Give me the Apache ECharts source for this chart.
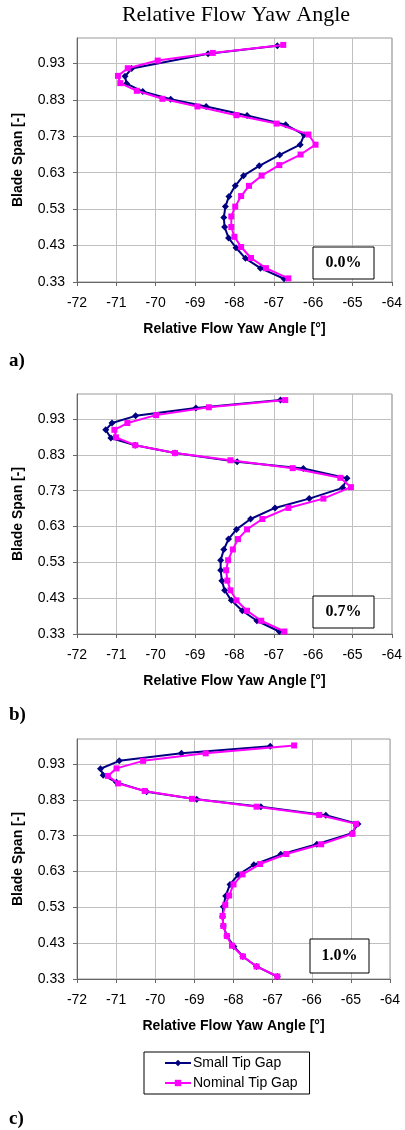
<!DOCTYPE html>
<html><head><meta charset="utf-8">
<script src="https://cdn.jsdelivr.net/npm/echarts@6/dist/echarts.min.js"></script>
<style>html,body{margin:0;padding:0;background:#fff}#c{width:405px;height:1130px}</style>
</head><body><div id="c"></div>
<script>
// ---- data ----
const yTicks = [0.33, 0.43, 0.53, 0.63, 0.73, 0.83, 0.93];
const xTicks = [-72, -71, -70, -69, -68, -67, -66, -65, -64];
const seriesNames = ['Small Tip Gap', 'Nominal Tip Gap'];
const panelLabels = ['a)', 'b)', 'c)'];
const gapLabels = ['0.0%', '0.7%', '1.0%'];

// panel a (0.0%)
const yawSmallA = [-66.91,-68.67,-70.61,-70.78,-70.74,-70.33,-69.62,-68.72,-67.68,-66.70,-66.23,-66.33,-66.85,-67.37,-67.77,-67.98,-68.14,-68.23,-68.27,-68.25,-68.15,-67.96,-67.72,-67.34,-66.74];
const spanSmallA = [0.979,0.957,0.916,0.895,0.875,0.853,0.832,0.812,0.787,0.762,0.734,0.707,0.679,0.649,0.622,0.594,0.565,0.537,0.507,0.481,0.451,0.424,0.395,0.368,0.339];
const yawNomA = [-66.76,-68.55,-69.95,-70.71,-70.96,-70.90,-70.48,-69.83,-68.94,-67.95,-66.93,-66.12,-65.94,-66.32,-66.86,-67.31,-67.63,-67.83,-67.98,-68.08,-68.08,-68.00,-67.83,-67.58,-67.20,-66.63];
const spanNomA = [0.981,0.959,0.938,0.917,0.896,0.876,0.855,0.833,0.812,0.788,0.765,0.735,0.707,0.680,0.651,0.622,0.594,0.566,0.537,0.510,0.481,0.454,0.426,0.396,0.368,0.340];

// panel b (0.7%)
const yawSmallB = [-66.83,-68.98,-70.51,-71.11,-71.27,-71.14,-70.52,-69.51,-67.93,-66.25,-65.14,-65.25,-66.10,-66.97,-67.59,-67.95,-68.15,-68.27,-68.35,-68.35,-68.32,-68.25,-68.08,-67.80,-67.43,-66.86];
const spanSmallB = [0.983,0.961,0.939,0.919,0.900,0.877,0.857,0.835,0.811,0.792,0.765,0.738,0.708,0.682,0.651,0.622,0.595,0.566,0.536,0.508,0.479,0.452,0.424,0.395,0.367,0.337];
const yawNomB = [-66.71,-68.65,-69.99,-70.72,-71.05,-71.01,-70.52,-69.51,-68.10,-66.52,-65.31,-65.04,-65.74,-66.63,-67.29,-67.68,-67.91,-68.04,-68.16,-68.21,-68.18,-68.10,-67.95,-67.68,-67.32,-66.73];
const spanNomB = [0.983,0.963,0.941,0.919,0.900,0.879,0.857,0.835,0.815,0.793,0.766,0.740,0.708,0.682,0.651,0.622,0.595,0.566,0.536,0.508,0.479,0.452,0.424,0.395,0.367,0.337];

// panel c (1.0%)
const yawSmallC = [-67.06,-69.33,-70.92,-71.40,-71.33,-70.99,-70.22,-68.94,-67.30,-65.64,-64.82,-64.97,-65.87,-66.79,-67.48,-67.88,-68.09,-68.20,-68.26,-68.28,-68.26,-68.17,-67.99,-67.76,-67.41,-66.88];
const spanSmallC = [0.980,0.960,0.939,0.917,0.899,0.879,0.853,0.832,0.811,0.787,0.763,0.737,0.706,0.678,0.649,0.621,0.594,0.562,0.532,0.504,0.478,0.450,0.421,0.393,0.365,0.337];
const yawNomC = [-66.45,-68.71,-70.31,-70.99,-71.21,-70.95,-70.27,-69.06,-67.41,-65.81,-64.87,-64.96,-65.76,-66.65,-67.32,-67.77,-68.00,-68.11,-68.21,-68.28,-68.26,-68.17,-68.04,-67.76,-67.41,-66.88];
const spanNomC = [0.982,0.960,0.939,0.918,0.897,0.876,0.855,0.833,0.811,0.788,0.763,0.735,0.706,0.679,0.651,0.622,0.594,0.563,0.537,0.506,0.478,0.450,0.423,0.393,0.365,0.337];

// ---- build ----
const zip = (xs, ys) => xs.map((x, i) => [x, ys[i]]);
const panels = [
  { small: zip(yawSmallA, spanSmallA), nom: zip(yawNomA, spanNomA) },
  { small: zip(yawSmallB, spanSmallB), nom: zip(yawNomB, spanNomB) },
  { small: zip(yawSmallC, spanSmallC), nom: zip(yawNomC, spanNomC) }
];
const grids = [
  { left: 77, top: 38, width: 318, height: 244 },
  { left: 77, top: 394, width: 318, height: 240 },
  { left: 77, top: 739, width: 313, height: 240 }
];
const boxes = [
  { x: 313, y: 247, w: 61, h: 32 },
  { x: 313, y: 596, w: 61, h: 32 },
  { x: 310, y: 939, w: 59, h: 34 }
];
const letterY = [361, 715, 1119];

const sans = 'Liberation Sans, Arial, sans-serif';
const serif = 'Liberation Serif, Times New Roman, serif';

const option = {
  animation: false,
  backgroundColor: '#fff',
  grid: grids.map(g => Object.assign({ show: true, borderColor: '#999', borderWidth: 1, containLabel: false }, g)),
  xAxis: grids.map((g, i) => ({
    type: 'value', gridIndex: i, min: xTicks[0], max: xTicks[xTicks.length - 1], interval: 1,
    name: 'Relative Flow Yaw Angle [°]', nameLocation: 'middle', nameGap: 40,
    nameTextStyle: { fontFamily: sans, fontWeight: 'bold', fontSize: 14, color: '#000' },
    axisLine: { onZero: false, lineStyle: { color: '#666', width: 1 } },
    axisTick: { inside: false, length: 4, lineStyle: { color: '#666' } },
    axisLabel: { margin: 14, fontFamily: sans, fontSize: 14, color: '#000' },
    splitLine: { show: true, lineStyle: { color: '#c0c0c0', width: 1 } }
  })),
  yAxis: grids.map((g, i) => ({
    type: 'value', gridIndex: i, min: 0.33, max: 1.0,
    name: 'Blade Span [-]', nameLocation: 'middle', nameGap: 52, nameRotate: 90,
    nameTextStyle: { fontFamily: sans, fontWeight: 'bold', fontSize: 14, color: '#000' },
    axisLine: { onZero: false, lineStyle: { color: '#666', width: 1 } },
    axisTick: { inside: false, length: 4, lineStyle: { color: '#666' }, customValues: yTicks },
    axisLabel: { margin: 12, fontFamily: sans, fontSize: 14, color: '#000', customValues: yTicks,
      formatter: v => v.toFixed(2) },
    splitLine: { show: true, lineStyle: { color: '#c0c0c0', width: 1 } }
  })),
  legend: {
    data: seriesNames, orient: 'vertical', left: 144, top: 1052,
    itemWidth: 26, itemHeight: 8, itemGap: 6,
    padding: [4, 12, 4, 20],
    borderColor: '#000', borderWidth: 1,
    textStyle: { fontFamily: sans, fontSize: 14, color: '#000', padding: [0, 0, 0, -3] }
  },
  series: [],
  graphic: []
};

panels.forEach((p, i) => {
  option.series.push({
    name: seriesNames[0], type: 'line', xAxisIndex: i, yAxisIndex: i, data: p.small,
    symbol: 'diamond', symbolSize: 7, z: 2,
    lineStyle: { color: '#000080', width: 2 }, itemStyle: { color: '#000080' }
  });
  option.series.push({
    name: seriesNames[1], type: 'line', xAxisIndex: i, yAxisIndex: i, data: p.nom,
    symbol: 'rect', symbolSize: 6, z: 3,
    lineStyle: { color: '#ff00ff', width: 2 }, itemStyle: { color: '#ff00ff' }
  });
});

option.graphic.push({
  type: 'text', x: 236, y: 15, z: 11,
  style: { text: 'Relative Flow Yaw Angle', font: '22px ' + serif, fill: '#000', align: 'center', verticalAlign: 'middle' }
});
boxes.forEach((b, i) => {
  option.graphic.push({
    type: 'rect', shape: { x: b.x, y: b.y, width: b.w, height: b.h },
    style: { fill: '#fff', stroke: '#000', lineWidth: 1 }, z: 10
  });
  option.graphic.push({
    type: 'text', x: b.x + b.w / 2, y: b.y + b.h / 2, z: 11,
    style: { text: gapLabels[i], font: 'bold 16px ' + serif, fill: '#000', align: 'center', verticalAlign: 'middle' }
  });
  option.graphic.push({
    type: 'text', x: 9, y: letterY[i], z: 11,
    style: { text: panelLabels[i], font: 'bold 19px ' + serif, fill: '#000', verticalAlign: 'middle' }
  });
});

const chart = echarts.init(document.getElementById('c'), null, { renderer: 'canvas' });
chart.setOption(option);
</script>
</body></html>
